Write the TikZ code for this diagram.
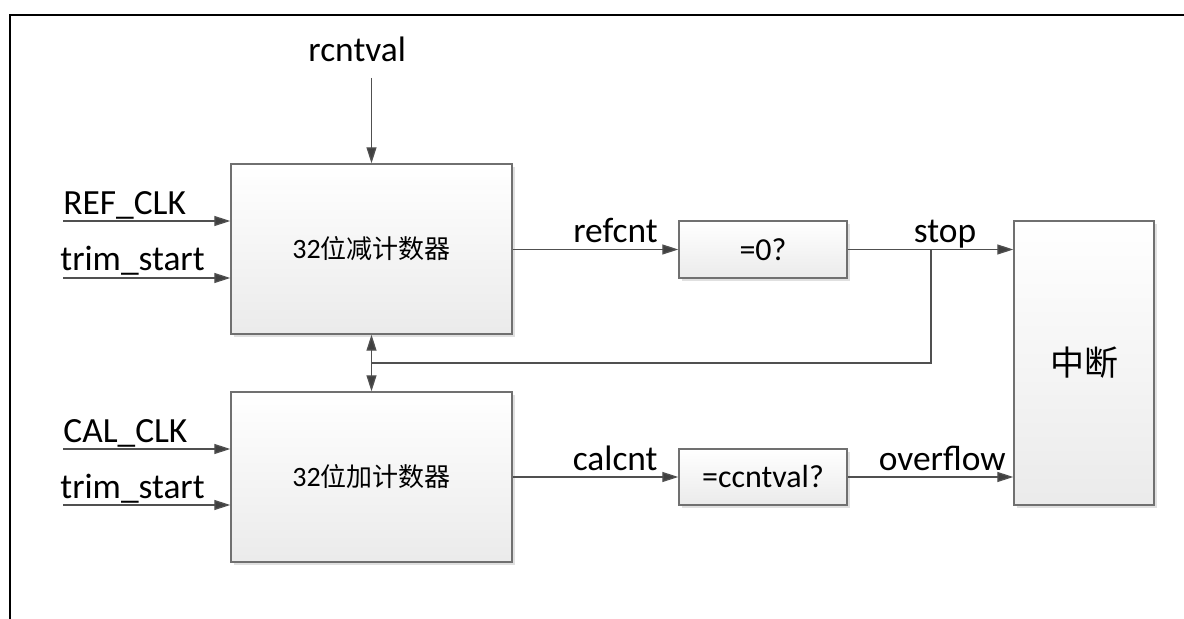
\documentclass[tikz,border=0pt]{standalone}
\usepackage{fontspec}
\setmainfont{Carlito}
\newfontfamily\cjk{Noto Sans CJK SC}
\usetikzlibrary{arrows.meta,shadows}
\definecolor{boxline}{HTML}{707070}
\definecolor{wire}{HTML}{505050}
\definecolor{tipc}{HTML}{404040}
\begin{document}
\begin{tikzpicture}[x=0.5pt,y=-0.5pt,
  blk/.style={draw=boxline, line width=0.7pt, top color=white, bottom color=black!8,
    drop shadow={shadow xshift=1.5pt, shadow yshift=-1.5pt, fill=black!12, opacity=1},
    inner sep=0pt, font=\fontsize{14}{16}\selectfont},
  wirestyle/.style={draw=wire, line width=0.65pt},
  arr/.style={wirestyle, -{Triangle[length=8pt,width=5pt,fill=tipc]}},
  lbl/.style={font=\fontsize{17.7}{20}\selectfont, inner sep=0pt}
]
\useasboundingbox (0,0) rectangle (1184,619);
% frame
\draw[line width=1.3pt] (10,619) -- (10,15) -- (1184,15);

% blocks
\node[blk, minimum width=140.5pt, minimum height=85pt] (b1) at (371.5,249) {32{\cjk\fontsize{13}{16}\selectfont 位减计数器}};
\node[blk, minimum width=140.5pt, minimum height=85pt] (b2) at (371.5,477) {32{\cjk\fontsize{13}{16}\selectfont 位加计数器}};
\node[blk, minimum width=84pt, minimum height=28.5pt, font=\fontsize{16}{18}\selectfont] (e1) at (763,249.5) {=0?};
\node[blk, minimum width=84pt, minimum height=28pt, font=\fontsize{16}{18}\selectfont] (e2) at (763,477) {=ccntval?};
\node[blk, minimum width=70pt, minimum height=142pt, font=\cjk\fontsize{17}{20}\selectfont] (int) at (1084,363) {中断};

% top input
\coordinate (rv) at (371.5,78);
\node[lbl, anchor=base west] (rvl) at (308,62) {rcntval};
\draw[arr] (rv) -- (b1.north);

% left inputs
\coordinate (i1) at (63,221);
\coordinate (i2) at (63,278);
\coordinate (i3) at (63,449);
\coordinate (i4) at (63,505);
\node[lbl, anchor=base west] (l1) at (63,215) {REF\_CLK};
\node[lbl, anchor=base west] (l2) at (60,271) {trim\_start};
\node[lbl, anchor=base west] (l3) at (63,443) {CAL\_CLK};
\node[lbl, anchor=base west] (l4) at (60,499) {trim\_start};
\draw[arr] (i1) -- (i1 -| b1.west);
\draw[arr] (i2) -- (i2 -| b1.west);
\draw[arr] (i3) -- (i3 -| b2.west);
\draw[arr] (i4) -- (i4 -| b2.west);

% middle connections
\draw[arr] (b1.east |- e1.west) -- (e1.west);
\node[lbl, anchor=base east] (lr) at (658,243) {refcnt};
\draw[arr] (b2.east |- e2.west) -- (e2.west);
\node[lbl, anchor=base east] (lc) at (658,471) {calcnt};

\draw[arr] (e1.east) -- (e1.east -| int.west);
\node[lbl, anchor=base] (ls) at (945,243) {stop};
\draw[arr] (e2.east) -- (e2.east -| int.west);
\node[lbl, anchor=base east] (lo) at (1006,471) {overflow};

% feedback
\coordinate (fa) at (931,249.5);
\coordinate (fb) at (931,363);
\coordinate (fc) at (371.5,363);
\draw[wirestyle] (fa) -- (fb) -- (fc);
\draw[arr] (fc) -- (b1.south);
\draw[arr] (fc) -- (b2.north);
\end{tikzpicture}
\end{document}
